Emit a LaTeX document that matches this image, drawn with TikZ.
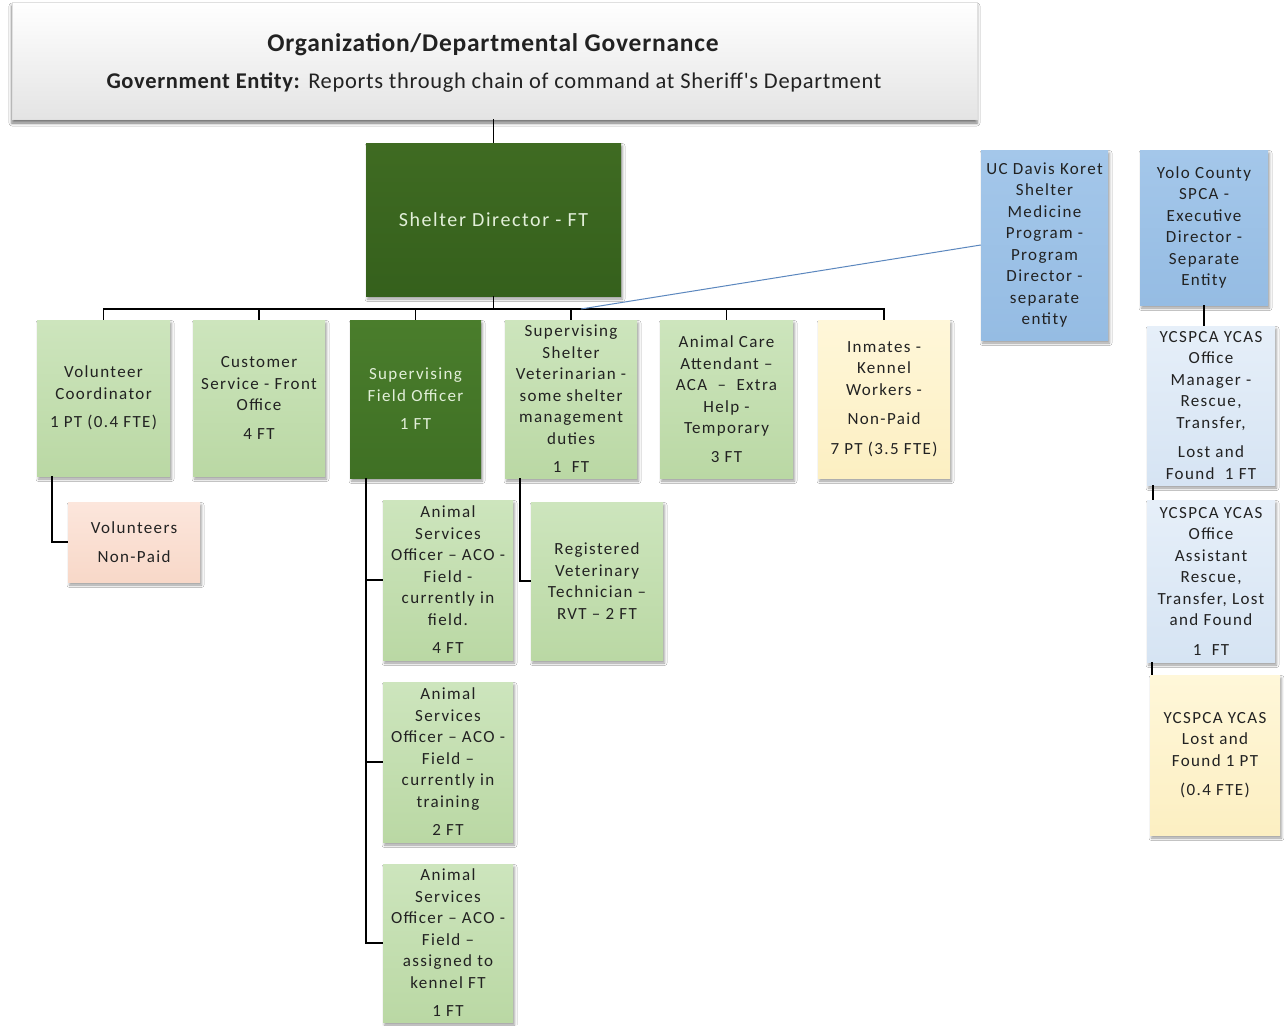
\documentclass[tikz,border=0pt]{standalone}
\usepackage{fontspec}
\setmainfont{Carlito}
\newfontfamily\boxfont[LetterSpace=8]{Carlito}
\newfontfamily\hdrfont[LetterSpace=3]{Carlito}
\usetikzlibrary{shadows.blur,calc}
\definecolor{lgT}{HTML}{CDE5BD}
\definecolor{lgB}{HTML}{BAD8A4}
\definecolor{dgT}{HTML}{3F6B22}
\definecolor{dgB}{HTML}{35601C}
\definecolor{sfT}{HTML}{4A7D2C}
\definecolor{sfB}{HTML}{3F7024}
\definecolor{dtext}{HTML}{E2EFD9}
\definecolor{blueT}{HTML}{A4C7EA}
\definecolor{blueB}{HTML}{95BCE3}
\definecolor{lblueT}{HTML}{E6EFF9}
\definecolor{lblueB}{HTML}{D6E4F3}
\definecolor{yelT}{HTML}{FFF7D9}
\definecolor{yelB}{HTML}{FCEFC2}
\definecolor{peachT}{HTML}{FCE6DC}
\definecolor{peachB}{HTML}{F8D8C8}
\definecolor{hdrB}{HTML}{E4E4E4}
\definecolor{txt}{HTML}{222222}
\definecolor{uline}{HTML}{5B87BE}
\tikzset{
  sz/.style 2 args={minimum width=#1pt, minimum height=#2pt},
  base/.style={rectangle, inner sep=0pt, align=center, text=txt,
    font=\boxfont\fontsize{17}{21.5}\selectfont,
    blur shadow={shadow xshift=1.5pt, shadow yshift=-3pt, shadow blur radius=2.5pt, shadow opacity=40}},
  lg/.style={base, top color=lgT, bottom color=lgB},
  dg/.style={base, top color=dgT, bottom color=dgB, text=dtext},
  sf/.style={base, top color=sfT, bottom color=sfB, text=dtext},
  bl/.style={base, top color=blueT, bottom color=blueB},
  lb/.style={base, top color=lblueT, bottom color=lblueB},
  yl/.style={base, top color=yelT, bottom color=yelB},
  pc/.style={base, top color=peachT, bottom color=peachB},
  hdrbox/.style={rectangle, inner sep=0pt, top color=white, bottom color=hdrB, draw=black!12,
    blur shadow={shadow xshift=0pt, shadow yshift=-4pt, shadow blur radius=3pt, shadow opacity=55}},
  conn/.style={line width=1.4pt, black},
  uconn/.style={line width=1pt, uline}
}
\begin{document}
\begin{tikzpicture}[x=1pt,y=-1pt]
\path[fill=white, use as bounding box] (0,0) rectangle (1284,1025);

% header
\node[hdrbox, sz={965}{117}] (hdr) at (494.5,60.5) {};
\node[font=\hdrfont\bfseries\fontsize{25.5}{30}\selectfont, text=txt] (title) at (493,45) {Organization/Departmental Governance};
\node[font=\hdrfont\fontsize{22.5}{26}\selectfont, text=txt] (sub) at (494,83) {\textbf{Government Entity:} Reports through chain of command at Sheriff's Department};

% director
\node[dg, sz={255}{153}, font=\boxfont\fontsize{20}{24}\selectfont] (dir) at (493.5,219.5) {Shelter Director - FT};

% second level
\node[lg, sz={133}{156}] (vc) at (103.5,398) {Volunteer\\Coordinator\\[7pt]1 PT (0.4 FTE)};
\node[lg, sz={132}{156}] (cs) at (259,398) {Customer\\Service - Front\\Office\\[7pt]4 FT};
\node[sf, sz={131}{158}] (sfo) at (415.5,399) {Supervising\\Field Officer\\[7pt]1 FT};
\node[lg, sz={132}{158}] (vet) at (571,399) {Supervising\\Shelter\\Veterinarian -\\some shelter\\management\\duties\\[7pt]1\ \ FT};
\node[lg, sz={133}{158}] (aca) at (726.5,399) {Animal Care\\Attendant –\\ACA\ \ –\ \ Extra\\Help -\\Temporary\\[7pt]3 FT};
\node[yl, sz={132}{158}] (inm) at (884,399) {Inmates -\\Kennel\\Workers -\\[8pt]Non-Paid\\[8pt]7 PT (3.5 FTE)};

% right column
\node[bl, sz={127}{190}] (ucd) at (1044.5,245) {UC Davis Koret\\Shelter\\Medicine\\Program -\\Program\\Director -\\separate\\entity};
\node[bl, sz={128}{155}] (yolo) at (1204,227.5) {Yolo County\\SPCA -\\Executive\\Director -\\Separate\\Entity};
\node[lb, sz={128}{159}] (om) at (1211,405.5) {YCSPCA YCAS\\Office\\Manager -\\Rescue,\\Transfer,\\[8pt]Lost and\\Found\ \ 1 FT};
\node[lb, sz={128}{162}] (oa) at (1211,581) {YCSPCA YCAS\\Office\\Assistant\\Rescue,\\Transfer, Lost\\and Found\\[8pt]1\ \ FT};
\node[yl, sz={130}{160}] (lf) at (1215,755) {YCSPCA YCAS\\Lost and\\Found 1 PT\\[8pt](0.4 FTE)};

% third level
\node[pc, sz={132}{80}] (vol) at (134,542) {Volunteers\\[8pt]Non-Paid};
\node[lg, sz={130}{160}] (aso1) at (448,580) {Animal\\Services\\Officer – ACO -\\Field -\\currently in\\field.\\[7pt]4 FT};
\node[lg, sz={130}{160}] (aso2) at (448,762) {Animal\\Services\\Officer – ACO -\\Field –\\currently in\\training\\[7pt]2 FT};
\node[lg, sz={130}{158}] (aso3) at (448,943) {Animal\\Services\\Officer – ACO -\\Field –\\assigned to\\kennel FT\\[7pt]1 FT};
\node[lg, sz={132}{158}] (rvt) at (597,581) {Registered\\Veterinary\\Technician –\\RVT – 2 FT};

% connectors
\coordinate (bus) at (0,309);
\draw[conn] (dir.north |- hdr.south) -- (dir.north);
\draw[conn] (dir.south) -- (dir.south |- bus);
\draw[conn] (vc.north) -- (vc.north |- bus) -- (inm.north |- bus) -- (inm.north);
\foreach \n in {cs,sfo,vet,aca} \draw[conn] (\n.north) -- (\n.north |- bus);
\coordinate (ucend) at ($(vet.north |- bus)+(10,0)$);
\draw[uconn] (ucd.west) -- (ucend);
\draw[conn] ([xshift=15pt]vc.south west) |- (vol.west);
\foreach \n in {aso1,aso2,aso3} \draw[conn] ([xshift=16pt]sfo.south west) |- (\n.west);
\draw[conn] ([xshift=15pt]vet.south west) |- (rvt.west);
\draw[conn] (yolo.south) -- (yolo.south |- om.north);
\coordinate (omx) at ([xshift=6pt]om.south west);
\draw[conn] (omx) -- (omx |- oa.north);
\coordinate (oax) at ([xshift=5pt]oa.south west);
\draw[conn] (oax) -- (oax |- lf.north);
\end{tikzpicture}
\end{document}
